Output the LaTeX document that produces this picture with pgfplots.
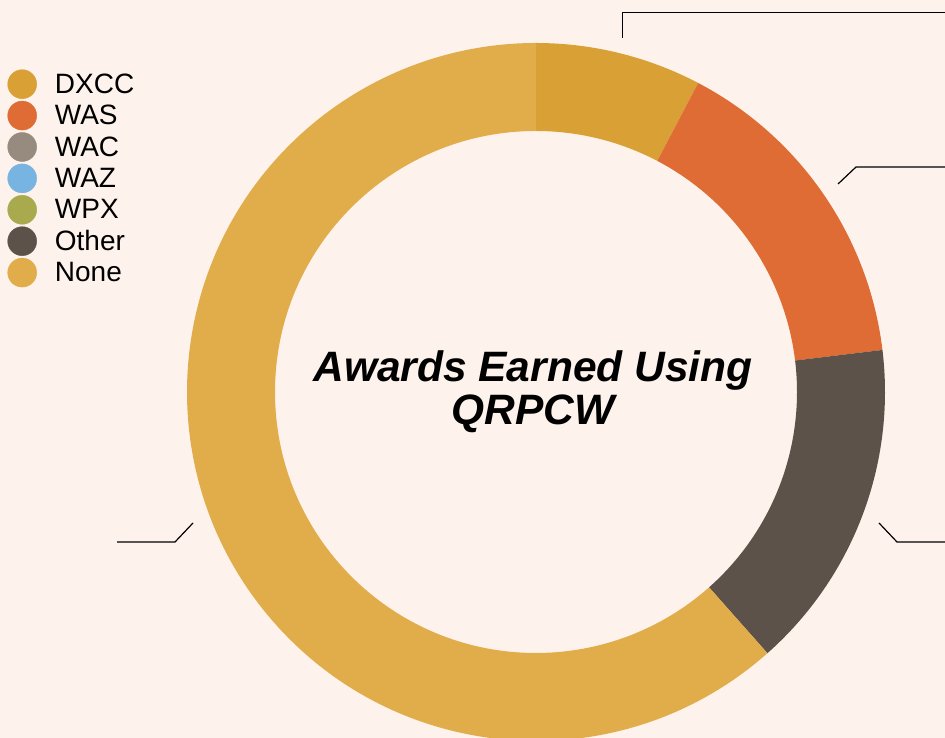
\documentclass[border=0pt]{standalone}
\usepackage{pgfplots}
\pgfplotsset{compat=1.18}
\usepackage{pgfplotstable}
\usepackage{fontspec}
\setmainfont{Liberation Sans}

\definecolor{bgcol}{HTML}{FDF3EC}
\definecolor{c0}{HTML}{D9A035}
\definecolor{c1}{HTML}{DE6C34}
\definecolor{c2}{HTML}{968B7E}
\definecolor{c3}{HTML}{78B4E1}
\definecolor{c4}{HTML}{A8AA4D}
\definecolor{c5}{HTML}{5C5249}
\definecolor{c6}{HTML}{E1AC4A}

\pgfplotstableread{
award value
DXCC 1
WAS 2
WAC 0
WAZ 0
WPX 0
Other 2
None 8
}\awards

% donut geometry (axis units = pt)
\def\cx{536}
\def\cy{346}
\def\Rout{349}
\def\Rin{261}

% cumulative angles from the data
\def\total{0}
\pgfplotsforeachungrouped \i in {0,...,6}{%
  \pgfplotstablegetelem{\i}{value}\of\awards
  \pgfmathsetmacro\total{\total+\pgfplotsretval}%
}
\xdef\total{\total}
\def\cum{0}
\pgfplotsforeachungrouped \i in {0,...,6}{%
  \pgfplotstablegetelem{\i}{value}\of\awards
  \let\v\pgfplotsretval
  \pgfmathsetmacro\s{90-360*\cum/\total}%
  \pgfmathsetmacro\cum{\cum+\v}%
  \pgfmathsetmacro\e{90-360*\cum/\total}%
  \expandafter\xdef\csname segS\i\endcsname{\s}%
  \expandafter\xdef\csname segE\i\endcsname{\e}%
  \expandafter\xdef\csname segV\i\endcsname{\v}%
}

\begin{document}
\begin{tikzpicture}
\fill[bgcol] (0,0) rectangle (945pt,738pt);
\path[use as bounding box] (0,0) rectangle (945pt,738pt);
\begin{axis}[
  scale only axis, width=945pt, height=738pt,
  xmin=0, xmax=945, ymin=0, ymax=738,
  enlargelimits=false, hide axis, clip=true,
  legend style={at={(axis cs:7.5,668.5)}, anchor=north west,
    draw=none, fill=none, inner sep=0pt, outer sep=0pt,
    font=\fontsize{28}{28}\selectfont, row sep=2pt, column sep=18pt,
    nodes={inner sep=0pt, outer sep=0pt}},
  legend cell align=left,
]
\pgfplotsinvokeforeach{0,...,6}{%
  \ifdim\csname segV#1\endcsname pt>0pt
    \edef\tmp{\noexpand\fill[c#1]
      (axis cs:{\cx+\Rout*cos(\csname segS#1\endcsname)},{\cy+\Rout*sin(\csname segS#1\endcsname)})
      arc[start angle=\csname segS#1\endcsname, end angle=\csname segE#1\endcsname, radius=\Rout pt]
      -- (axis cs:{\cx+\Rin*cos(\csname segE#1\endcsname)},{\cy+\Rin*sin(\csname segE#1\endcsname)})
      arc[start angle=\csname segE#1\endcsname, end angle=\csname segS#1\endcsname, radius=\Rin pt]
      -- cycle;}%
    \tmp
  \fi
}
% leader lines
\draw[black, line width=1.2pt] (axis cs:622.5,700) -- (axis cs:622.5,725.5) -- (axis cs:946,725.5);
\draw[black, line width=1.2pt] (axis cs:838,554) -- (axis cs:856,571) -- (axis cs:946,571);
\draw[black, line width=1.2pt] (axis cs:879,215) -- (axis cs:897,196) -- (axis cs:946,196);
\draw[black, line width=1.2pt] (axis cs:193,215) -- (axis cs:175,196) -- (axis cs:117,196);
% centre title
\node[anchor=base, inner sep=0pt, font=\fontsize{42.5}{43}\selectfont\bfseries\itshape] at (axis cs:533,356) {Awards Earned Using};
\node[anchor=base, inner sep=0pt, font=\fontsize{42.5}{43}\selectfont\bfseries\itshape] at (axis cs:533,313) {QRPCW};
% legend
\addlegendimage{legend image code/.code={\fill[c0] (14.5pt,0pt) circle (14.5pt);}}
\addlegendentry{DXCC}
\addlegendimage{legend image code/.code={\fill[c1] (14.5pt,0pt) circle (14.5pt);}}
\addlegendentry{WAS}
\addlegendimage{legend image code/.code={\fill[c2] (14.5pt,0pt) circle (14.5pt);}}
\addlegendentry{WAC}
\addlegendimage{legend image code/.code={\fill[c3] (14.5pt,0pt) circle (14.5pt);}}
\addlegendentry{WAZ}
\addlegendimage{legend image code/.code={\fill[c4] (14.5pt,0pt) circle (14.5pt);}}
\addlegendentry{WPX}
\addlegendimage{legend image code/.code={\fill[c5] (14.5pt,0pt) circle (14.5pt);}}
\addlegendentry{Other}
\addlegendimage{legend image code/.code={\fill[c6] (14.5pt,0pt) circle (14.5pt);}}
\addlegendentry{None}
\end{axis}
\end{tikzpicture}
\end{document}
